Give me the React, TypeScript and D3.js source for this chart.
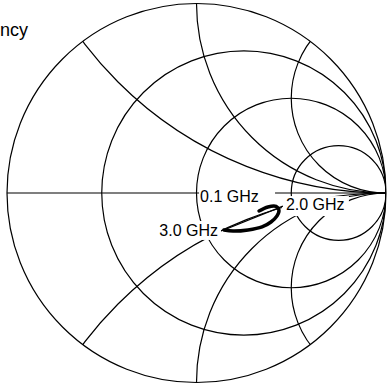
import React from 'react';
import * as d3 from 'd3';

// normalised grid values of the Smith chart
const resistanceValues = [1 / 3, 1, 3];
const reactanceValues = [0.5, 1, 2, -0.5, -1, -2];

// reflection coefficient trace, 0.1 .. 3.0 GHz
const freqGHz = [0.1, 0.4, 0.7, 1.0, 1.3, 1.6, 1.9, 2.2, 2.6, 3.0];
const gammaRe = [0.330, 0.377, 0.420, 0.435, 0.425, 0.393, 0.346, 0.272, 0.193, 0.145];
const gammaIm = [-0.095, -0.074, -0.071, -0.090, -0.121, -0.153, -0.179, -0.195, -0.201, -0.195];

// thin connector between 3.0 GHz point and the 2.0 GHz label
const leaderRe = [0.145, 0.456];
const leaderIm = [-0.195, -0.069];

const markerLabels = ['0.1 GHz', '2.0 GHz', '3.0 GHz'];
const titleText = 'Impedance vs Frequency';

export default function App() {
  const width = 389
    , height = 388
    , cx = 196.5
    , cy = 193
    , R = 189.5;

  let x = d3.scaleLinear().domain([-1, 1]).range([cx - R, cx + R]);
  let y = d3.scaleLinear().domain([-1, 1]).range([cy + R, cy - R]);
  let k = R; // pixels per unit

  let line = d3.line<[number, number]>()
    .x(d => x(d[0]))
    .y(d => y(d[1]))
    .curve(d3.curveCatmullRom);

  let trace: [number, number][] = gammaRe.map((re, i) => [re, gammaIm[i]]);
  let leader: [number, number][] = leaderRe.map((re, i) => [re, leaderIm[i]]);

  let first = 0, last = freqGHz.length - 1;
  let labels = [
    { text: markerLabels[0], px: x(gammaRe[first]) - 59, py: y(gammaIm[first]) - 9, anchor: 'start', box: [-1, 75, -18, 3] },
    { text: markerLabels[1], px: x(leaderRe[1]) + 3, py: y(leaderIm[1]) + 4, anchor: 'start', box: [-4, 63, -14, 6] },
    { text: markerLabels[2], px: x(gammaRe[last]) - 6, py: y(gammaIm[last]) + 6, anchor: 'end', box: [-61, 3, -15, 4] }
  ];

  return (
    <div style={{ position: 'absolute', left: 0, top: 0 }}>
      <svg width={width} height={height} style={{ display: 'block' }}>
        <defs>
          <clipPath id='smith-clip'>
            <circle cx={cx} cy={cy} r={R} />
          </clipPath>
        </defs>
        <rect width={width} height={height} fill='#fff' />
        <text x={28} y={36} textAnchor='end' fontFamily='Liberation Sans, Arial, sans-serif' fontSize={18}>{titleText}</text>

        <g fill='none' stroke='#000' strokeWidth={1.2}>
          <g clipPath='url(#smith-clip)'>
            {resistanceValues.map(r => (
              <circle key={'r' + r} cx={x(r / (1 + r))} cy={y(0)} r={k / (1 + r)} />
            ))}
            {reactanceValues.map(v => (
              <circle key={'x' + v} cx={x(1)} cy={y(1 / v)} r={k / Math.abs(v)} />
            ))}
          </g>
          <line x1={x(-1)} x2={x(1)} y1={y(0)} y2={y(0)} />
          <circle cx={cx} cy={cy} r={R} />
        </g>

        {labels.map(l => (
          <rect key={'b' + l.text} x={l.px + l.box[0]} y={l.py + l.box[2]}
            width={l.box[1] - l.box[0]} height={l.box[3] - l.box[2]} fill='#fff' />
        ))}

        <path d={line(leader) || ''} fill='none' stroke='#000' strokeWidth={1.2} />
        <path d={line(trace) || ''} fill='none' stroke='#000' strokeWidth={3.5} strokeLinecap='round' />

        {labels.map(l => (
          <text key={l.text} x={l.px} y={l.py} textAnchor={l.anchor as any}
            fontFamily='Liberation Sans, Arial, sans-serif' fontSize={16}>{l.text}</text>
        ))}
      </svg>
    </div>
  );
}
